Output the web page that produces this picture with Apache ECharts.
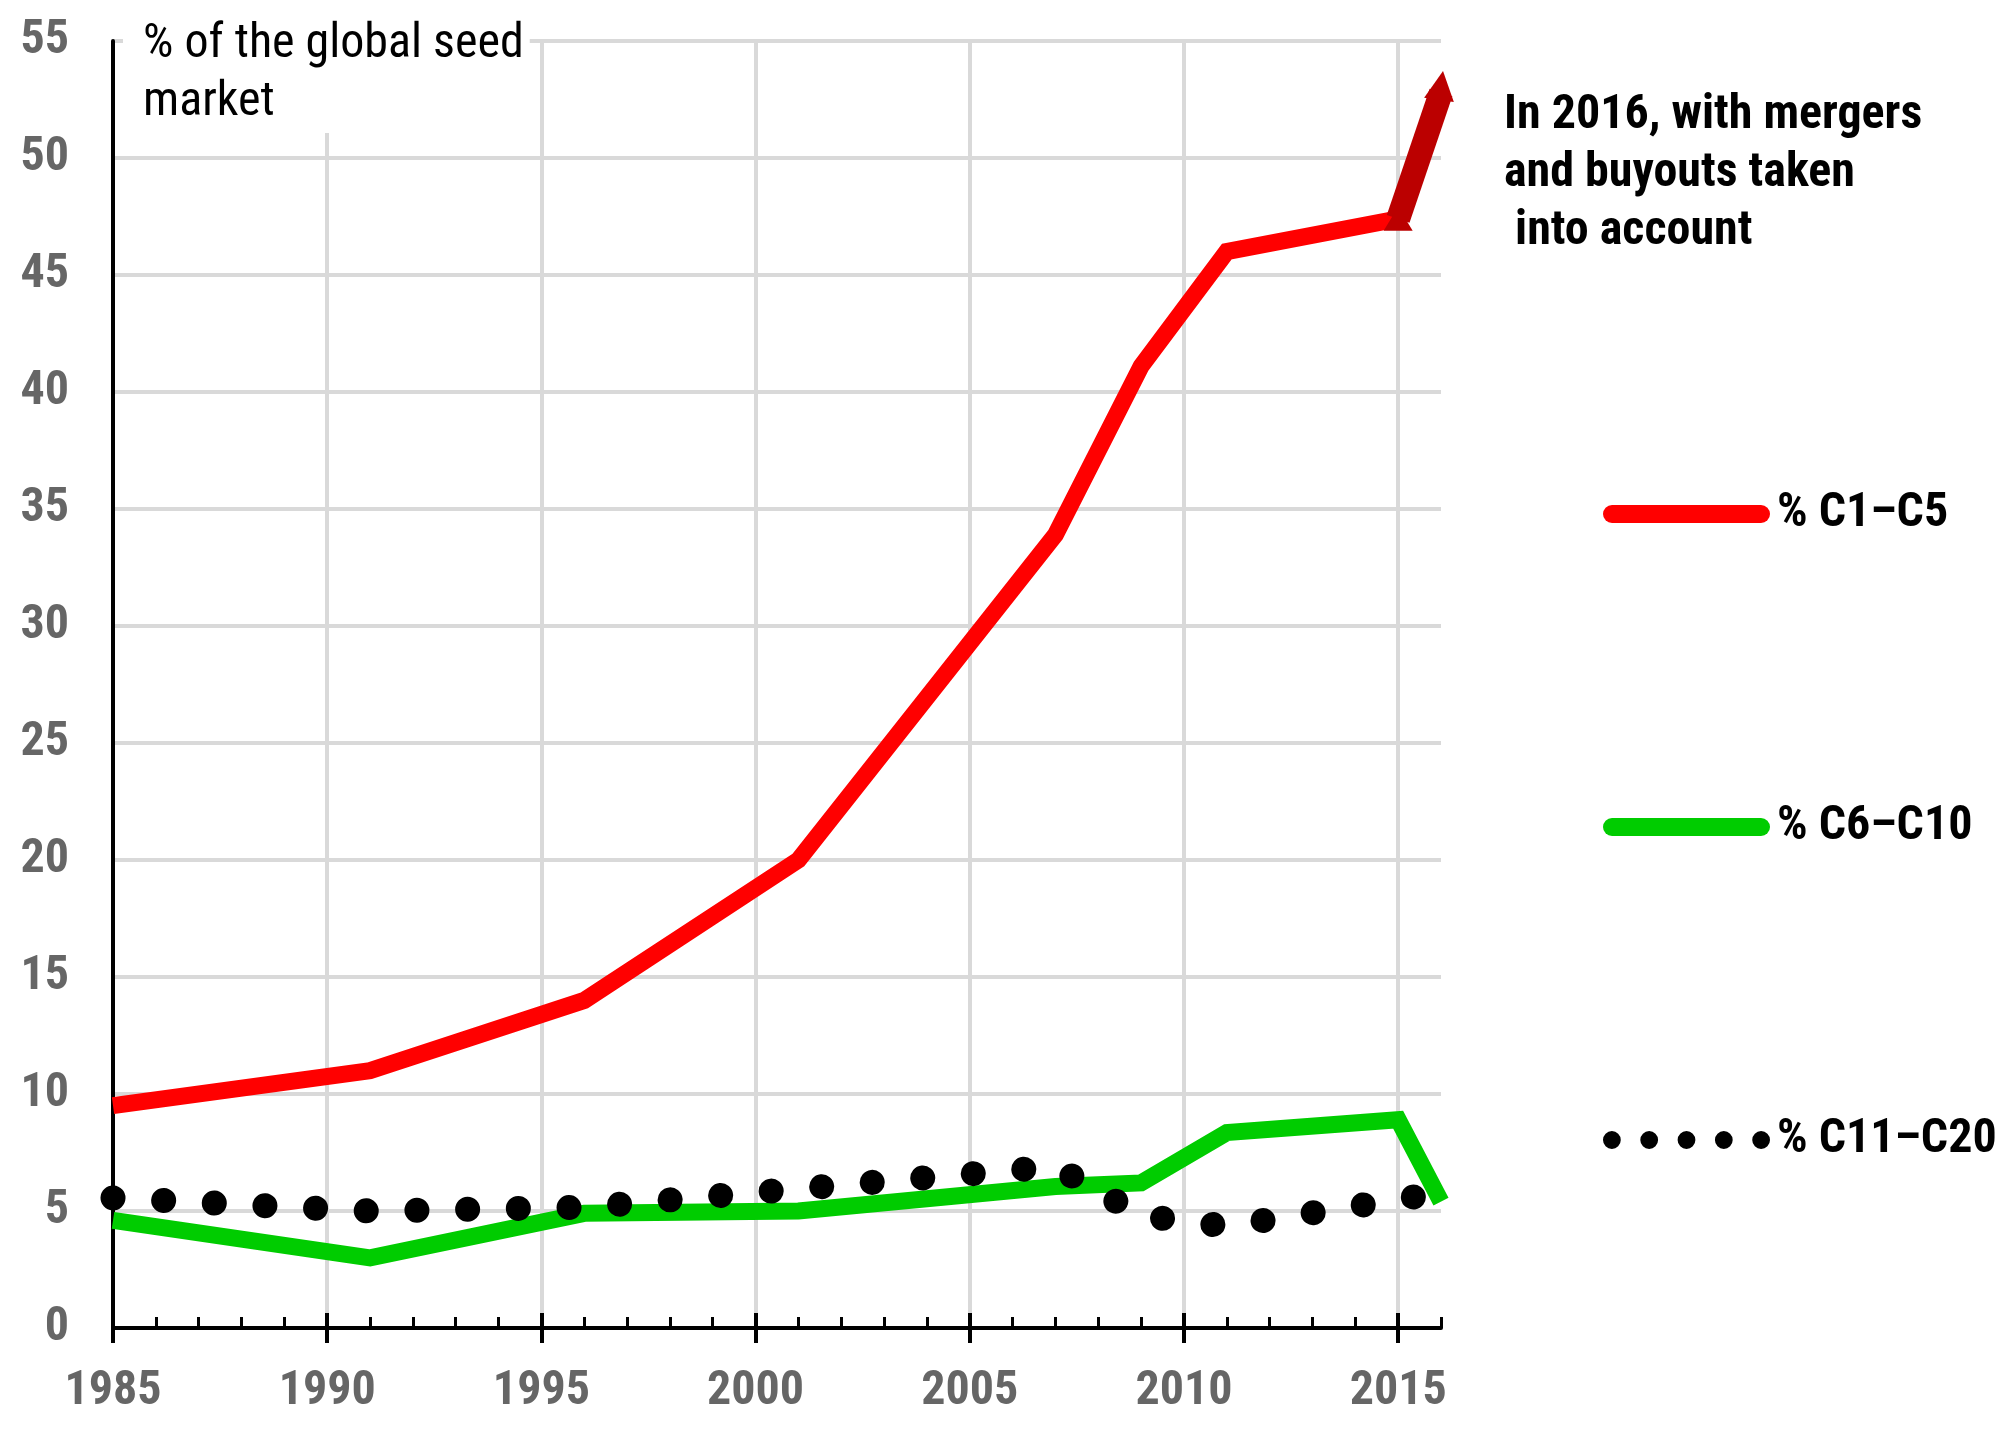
<!DOCTYPE html>
<html>
<head>
<meta charset="utf-8">
<script src="https://cdn.jsdelivr.net/npm/echarts@6.0.0/dist/echarts.min.js"></script>
<style>
  html, body { margin: 0; padding: 0; background: #fff; }
  #chart { width: 2013px; height: 1435px; }
</style>
</head>
<body>
<div id="chart"></div>
<script>
// values
const redYears = [1985, 1991, 1996, 2001, 2007, 2009, 2011, 2015];
const redValues = [9.5, 11.0, 14.0, 20.0, 33.9, 41.1, 46.0, 47.4];

const greenYears = [1985, 1991, 1996, 2001, 2007, 2009, 2011, 2015, 2016];
const greenValues = [4.6, 3.0, 4.9, 5.0, 6.05, 6.2, 8.35, 8.9, 5.4];

const blackYears = [1985, 1991, 1996, 2007, 2009, 2011, 2016];
const blackValues = [5.56, 5.0, 5.16, 6.9, 4.8, 4.35, 5.78];

// 2016 jump once mergers are counted
const arrowYears = [2015, 2016];
const arrowValues = [47.4, 52.8];

const majorYears = [1985, 1990, 1995, 2000, 2005, 2010, 2015];
const allYears = [1986, 1987, 1988, 1989, 1990, 1991, 1992, 1993, 1994, 1995, 1996, 1997, 1998, 1999, 2000,
    2001, 2002, 2003, 2004, 2005, 2006, 2007, 2008, 2009, 2010, 2011, 2012, 2013, 2014, 2015, 2016];

const seriesNames = ["% C1\u2013C5", "% C6\u2013C10", "% C11\u2013C20"];
const yTitle = "% of the global seed\nmarket";
const note = "In 2016, with mergers\nand buyouts taken\n into account";

const FONT = '"Roboto Condensed", "Liberation Sans Narrow", sans-serif';
const RED = "#ff0000";
const GREEN = "#00cc00";
const DARK_RED = "#bb0000";

const zip = (xs, ys) => xs.map((x, i) => [x, ys[i]]);

// legend icons
const capsule = "path://M9,0H158A9,9,0,0,1,158,18H9A9,9,0,0,1,9,0Z";
let dots = "path://";
for (let k = 0; k < 5; k++) {
    const cx = 8.5 + k * 35.7;
    dots += `M${cx - 8.5},8.5a8.5,8.5 0 1,0 17,0a8.5,8.5 0 1,0 -17,0`;
}

const gridBox = { left: 113, right: 572, top: 41, bottom: 107 };
const hiddenY = (i) => ({ type: "value", gridIndex: i, min: 0, max: 55, show: false });
const tickAxis = (i, inside, length, width, values) => ({
    type: "value",
    gridIndex: i,
    min: 1985,
    max: 2016,
    interval: 5,
    axisLine: { show: false },
    axisTick: { show: true, inside: inside, length: length, customValues: values,
        lineStyle: { color: "#000", width: width } },
    axisLabel: { show: false },
    splitLine: { show: false },
});

// arrow: base triangle on the 2015 point, head pushed a little past the 2016 point
const arrowData = zip(arrowYears, arrowValues).map((p, i) => (i === 0
    ? { value: p, symbolSize: [29, 24] }
    : { value: p, symbolSize: [30, 29], symbolOffset: [0, -7], symbolRotate: -8 }));

const option = {
    animation: false,
    backgroundColor: "#fff",
    title: [
        {
            text: yTitle,
            left: 123,
            top: 0,
            padding: [16, 6, 1, 20],
            backgroundColor: "#fff",
            textStyle: { fontFamily: FONT, fontSize: 48, fontWeight: "normal", color: "#000", lineHeight: 58 },
        },
        {
            text: note,
            left: 1504,
            top: 87,
            padding: 0,
            textStyle: { fontFamily: FONT, fontSize: 48, fontWeight: "bold", color: "#000", lineHeight: 58 },
        },
    ],
    legend: {
        orient: "vertical",
        left: 1598,
        top: 481,
        itemWidth: 167,
        itemHeight: 18,
        itemGap: 257,
        selectedMode: false,
        textStyle: { fontFamily: FONT, fontSize: 48, fontWeight: "bold", color: "#000", lineHeight: 56, padding: [0, 0, 0, 2] },
        data: [
            { name: seriesNames[0], icon: capsule, itemStyle: { color: RED, borderWidth: 0 } },
            { name: seriesNames[1], icon: capsule, itemStyle: { color: GREEN, borderWidth: 0 } },
            { name: seriesNames[2], icon: dots, itemStyle: { color: "#000", borderWidth: 0 } },
        ],
    },
    grid: [gridBox, gridBox, gridBox].map((g) => Object.assign({}, g)),
    xAxis: [
        {
            type: "value",
            gridIndex: 0,
            min: 1985,
            max: 2016,
            interval: 5,
            axisLine: { show: true, onZero: false, lineStyle: { color: "#000", width: 4 } },
            axisTick: { show: true, inside: true, length: 15, customValues: majorYears,
                lineStyle: { color: "#000", width: 4 } },
            axisLabel: { customValues: majorYears, margin: 40, fontFamily: FONT, fontSize: 48,
                fontWeight: "bold", color: "#666", formatter: (v) => String(v) },
            splitLine: { show: true, lineStyle: { color: "#d9d9d9", width: 4 } },
        },
        tickAxis(1, true, 11, 3, allYears),
        tickAxis(2, false, 15, 4, majorYears),
    ],
    yAxis: [
        {
            type: "value",
            gridIndex: 0,
            min: 0,
            max: 55,
            interval: 5,
            axisLine: { show: true, lineStyle: { color: "#000", width: 4 } },
            axisTick: { show: false },
            axisLabel: { margin: 44, padding: [14, 0, 0, 0], fontFamily: FONT, fontSize: 48,
                fontWeight: "bold", color: "#666" },
            splitLine: { show: true, lineStyle: { color: "#d9d9d9", width: 4 } },
        },
        hiddenY(1),
        hiddenY(2),
    ],
    series: [
        {
            name: seriesNames[1],
            type: "line",
            data: zip(greenYears, greenValues),
            symbol: "none",
            z: 2,
            itemStyle: { color: GREEN },
            lineStyle: { color: GREEN, width: 17, join: "miter" },
        },
        {
            name: seriesNames[2],
            type: "line",
            data: zip(blackYears, blackValues),
            symbol: "none",
            z: 3,
            itemStyle: { color: "#000" },
            lineStyle: { color: "#000", width: 25, type: [0.01, 50.7], cap: "round" },
        },
        {
            name: seriesNames[0],
            type: "line",
            data: zip(redYears, redValues),
            symbol: "none",
            z: 4,
            itemStyle: { color: RED },
            lineStyle: { color: RED, width: 17, join: "miter" },
        },
        {
            name: "2016",
            type: "line",
            data: arrowData,
            symbol: "triangle",
            showSymbol: true,
            z: 5,
            silent: true,
            itemStyle: { color: DARK_RED },
            lineStyle: { color: DARK_RED, width: 24 },
        },
    ],
};

const chart = echarts.init(document.getElementById("chart"));
chart.setOption(option);
</script>
</body>
</html>
